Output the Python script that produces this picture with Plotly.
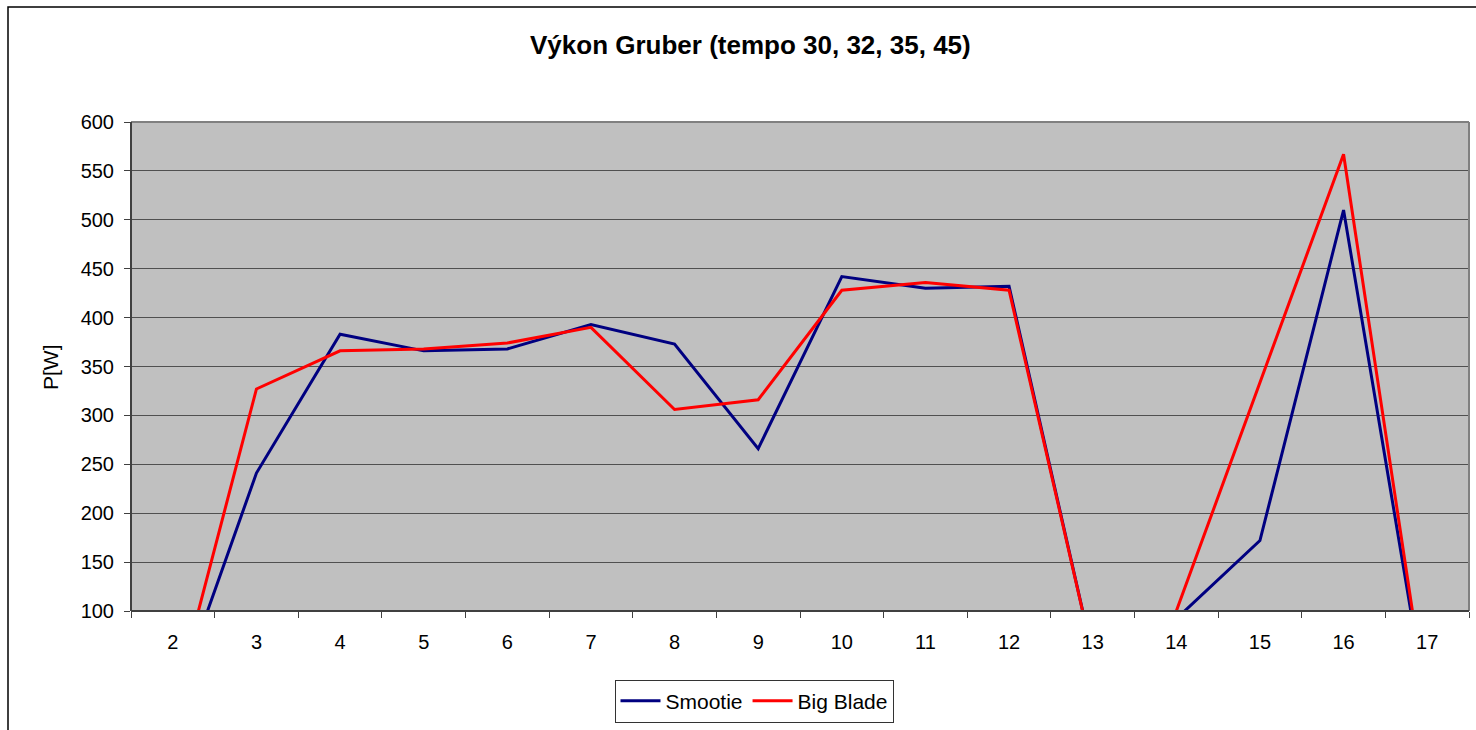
import plotly.graph_objects as go

# Category labels (interval numbers) and power values in watts
categories = ["2", "3", "4", "5", "6", "7", "8", "9", "10", "11", "12", "13", "14", "15", "16", "17"]
smootie = [0, 241, 383, 366, 368, 393, 373, 266, 442, 430, 432, 55, 92, 172, 510, 0]
big_blade = [0, 327, 366, 368, 374, 390, 306, 316, 428, 436, 428, 55, 100, 333, 567, 0]

y_ticks = [100, 150, 200, 250, 300, 350, 400, 450, 500, 550, 600]

W, H = 1476, 730
L, R, T, B = 131, 7, 122, 119
PW, PH = W - L - R, H - T - B


def px_x(x):
    return (x - L) / PW


def px_y(y):
    return (H - B - y) / PH


FONT = "Liberation Sans, Arial, sans-serif"

fig = go.Figure()
fig.add_trace(go.Scatter(x=categories, y=smootie, name="Smootie", mode="lines",
                         line=dict(color="#000080", width=3)))
fig.add_trace(go.Scatter(x=categories, y=big_blade, name="Big Blade", mode="lines",
                         line=dict(color="#FF0000", width=3)))

fig.update_layout(
    width=W, height=H,
    margin=dict(l=L, r=R, t=T, b=B, pad=0),
    paper_bgcolor="white",
    plot_bgcolor="#C0C0C0",
    font=dict(family=FONT, size=20, color="black"),
    showlegend=True,
    legend=dict(
        orientation="h",
        x=px_x(754), y=px_y(701), xanchor="center", yanchor="middle",
        bgcolor="white", bordercolor="#333333", borderwidth=1,
        font=dict(size=21), itemwidth=40,
    ),
    xaxis=dict(
        type="category", range=[-0.5, len(categories) - 0.5],
        tickson="boundaries", ticks="outside", ticklen=6, tickcolor="#404040",
        showgrid=False, showline=False, zeroline=False,
        ticklabelstandoff=17, tickfont=dict(size=20),
    ),
    yaxis=dict(
        range=[100, 600], tickvals=y_ticks, ticks="outside", ticklen=6,
        tickcolor="#404040", showgrid=True, gridcolor="#505050", gridwidth=1,
        showline=False, zeroline=False, tickfont=dict(size=20),
        ticklabelstandoff=6,
    ),
    annotations=[
        dict(text="<b>Výkon Gruber (tempo 30, 32, 35, 45)</b>", xref="paper", yref="paper",
             x=px_x(750), y=px_y(45), xanchor="center", yanchor="middle",
             showarrow=False, font=dict(size=26, family=FONT)),
        dict(text="P[W]", xref="paper", yref="paper", textangle=-90,
             x=px_x(50), y=px_y(367), xanchor="center", yanchor="middle",
             showarrow=False, font=dict(size=21, family=FONT)),
    ],
    shapes=[
        # outer chart frame
        dict(type="rect", xref="paper", yref="paper",
             x0=px_x(8), y0=px_y(760), x1=px_x(1490), y1=px_y(7),
             line=dict(color="black", width=1.5), fillcolor="rgba(0,0,0,0)", layer="below"),
        # plot area border (top and right)
        dict(type="line", xref="paper", yref="paper", x0=0, x1=1, y0=1, y1=1,
             line=dict(color="#808080", width=2)),
        dict(type="line", xref="paper", yref="paper", x0=1, x1=1, y0=0, y1=1,
             line=dict(color="#808080", width=2)),
        # axis lines (left and bottom)
        dict(type="line", xref="paper", yref="paper", x0=0, x1=0, y0=0, y1=1,
             line=dict(color="#404040", width=2)),
        dict(type="line", xref="paper", yref="paper", x0=0, x1=1, y0=0, y1=0,
             line=dict(color="#404040", width=2)),
    ],
)

fig.write_html("out.html")
